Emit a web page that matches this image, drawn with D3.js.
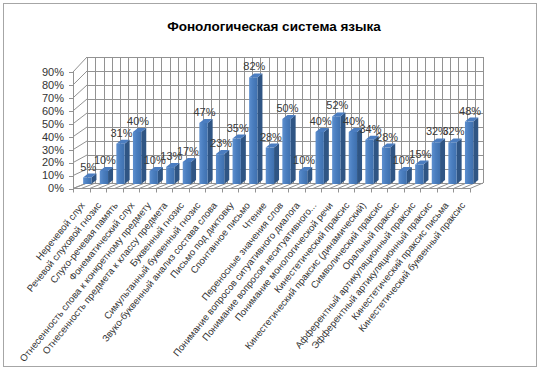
<!DOCTYPE html>
<html>
<head>
<meta charset="utf-8">
<script src="https://cdn.jsdelivr.net/npm/d3@7"></script>
<style>
  body { margin: 0; background: #fff; }
  text { font-family: "Liberation Sans", Arial, sans-serif; }
</style>
</head>
<body>
<svg id="chart" width="546" height="373"></svg>
<script>
const title = "Фонологическая система языка";

const categories = [
  "Неречевой слух",
  "Речевой слуховой гнозис",
  "Слухо-речевая память",
  "Фонематический слух",
  "Отнесенность слова к конкретному предмету",
  "Отнесенность предмета к классу предмета",
  "Буквенный гнозис",
  "Симультанный буквенный гнозис",
  "Звуко-буквенный анализ состава слова",
  "Письмо под диктовку",
  "Спонтанное письмо",
  "Чтение",
  "Переносные значения слов",
  "Понимание вопросов ситуативного диалога",
  "Понимание вопросов неситуативного...",
  "Понимание монологической речи",
  "Кинестетический праксис",
  "Кинестетический праксис (динамический)",
  "Символический праксис",
  "Оральный праксис",
  "Афферентный артикуляционный праксис",
  "Эфферентный артикуляционный праксис",
  "Кинестетический праксис письма",
  "Кинестетический буквенный праксис"
];

const values = [5, 10, 31, 40, 10, 13, 17, 47, 23, 35, 82, 28,
                50, 10, 40, 52, 40, 34, 28, 10, 15, 32, 32, 48];

const yTicks = [0, 10, 20, 30, 40, 50, 60, 70, 80, 90];

const svg = d3.select("#chart");

// chart frame
svg.append("rect")
  .attr("x", 3.5).attr("y", 3.5)
  .attr("width", 533).attr("height", 363)
  .attr("fill", "#fff")
  .attr("stroke", "#a6a6a6");

svg.append("text")
  .attr("x", 274).attr("y", 31)
  .attr("text-anchor", "middle")
  .style("font-size", "13.5px")
  .style("font-weight", "bold")
  .attr("fill", "#000")
  .text(title);

// 3d frame scales: back wall, front edge, bars
const xBack = d3.scaleBand().domain(categories).range([87, 483]);
const xFront = d3.scaleBand().domain(categories).range([73, 470]);
const xBar = d3.scaleBand().domain(categories).range([79, 477.4])
  .paddingInner(0.5).paddingOuter(0.25);

const yBack = d3.scaleLinear().domain([0, 90]).range([183, 57]);
const yFront = d3.scaleLinear().domain([0, 90]).range([188.5, 72]);
const yBar = d3.scaleLinear().domain([0, 90]).range([184, 67]);

const depth = { dx: 5, dy: -4 };
const gridColor = "#929292";

const grid = svg.append("g")
  .attr("stroke", gridColor)
  .attr("stroke-width", 1)
  .attr("fill", "none");

// back wall
grid.selectAll("line.hb")
  .data(yTicks).enter()
  .append("line")
    .attr("x1", 87).attr("x2", 483)
    .attr("y1", function(d) { return Math.round(yBack(d)) + 0.5; })
    .attr("y2", function(d) { return Math.round(yBack(d)) + 0.5; });

const halfEdges = [];
categories.forEach(function(c) { halfEdges.push(c + "|0", c + "|1"); });
halfEdges.push("end");

function edgeX(scale, key) {
  if (key === "end") return scale.range()[1];
  const parts = key.split("|");
  return scale(parts[0]) + (+parts[1]) * scale.bandwidth() / 2;
}

grid.selectAll("line.vb")
  .data(halfEdges).enter()
  .append("line")
    .attr("x1", function(d) { return Math.round(edgeX(xBack, d)) + 0.5; })
    .attr("x2", function(d) { return Math.round(edgeX(xBack, d)) + 0.5; })
    .attr("y1", yBack(0)).attr("y2", yBack(90));

// side wall
grid.selectAll("line.side")
  .data(yTicks).enter()
  .append("line")
    .attr("x1", 73).attr("y1", function(d) { return yFront(d); })
    .attr("x2", 87).attr("y2", function(d) { return yBack(d); });

grid.append("line")
  .attr("x1", 73.5).attr("x2", 73.5)
  .attr("y1", yFront(0)).attr("y2", yFront(90));

// floor
grid.append("line")
  .attr("x1", 73).attr("x2", 470)
  .attr("y1", yFront(0)).attr("y2", yFront(0));

grid.selectAll("line.floor")
  .data(halfEdges).enter()
  .append("line")
    .attr("x1", function(d) { return edgeX(xFront, d); })
    .attr("y1", yFront(0))
    .attr("x2", function(d) { return edgeX(xBack, d); })
    .attr("y2", yBack(0));

// ticks
grid.selectAll("line.ytick")
  .data(yTicks).enter()
  .append("line")
    .attr("x1", 69).attr("x2", 73)
    .attr("y1", function(d) { return Math.round(yFront(d)) + 0.5; })
    .attr("y2", function(d) { return Math.round(yFront(d)) + 0.5; });

const catEdges = categories.concat(["end"]);
grid.selectAll("line.xtick")
  .data(catEdges).enter()
  .append("line")
    .attr("x1", function(d) { return Math.round(d === "end" ? 470 : xFront(d)) + 0.5; })
    .attr("x2", function(d) { return Math.round(d === "end" ? 470 : xFront(d)) + 0.5; })
    .attr("y1", yFront(0)).attr("y2", yFront(0) + 4);

// bars
const defs = svg.append("defs");
const grad = defs.append("linearGradient")
  .attr("id", "barFront").attr("x1", 0).attr("x2", 1).attr("y1", 0).attr("y2", 0);
grad.append("stop").attr("offset", "0%").attr("stop-color", "#5d8fcf");
grad.append("stop").attr("offset", "45%").attr("stop-color", "#4a7ebf");
grad.append("stop").attr("offset", "100%").attr("stop-color", "#3f70ae");

const bars = svg.append("g")
  .selectAll("g")
  .data(categories.map(function(c, i) { return { name: c, value: values[i] }; }))
  .enter().append("g");

const bw = xBar.bandwidth();

bars.append("polygon")
  .attr("points", function(d) {
    const x = xBar(d.name) + bw, y0 = yBar(0), y1 = yBar(d.value);
    return [[x, y1], [x + depth.dx, y1 + depth.dy], [x + depth.dx, y0 + depth.dy], [x, y0]].join(" ");
  })
  .attr("fill", "#2f5584");

bars.append("polygon")
  .attr("points", function(d) {
    const x = xBar(d.name), y1 = yBar(d.value);
    return [[x, y1], [x + depth.dx, y1 + depth.dy], [x + bw + depth.dx, y1 + depth.dy], [x + bw, y1]].join(" ");
  })
  .attr("fill", "#4b7dc0");

bars.append("rect")
  .attr("x", function(d) { return xBar(d.name); })
  .attr("y", function(d) { return yBar(d.value); })
  .attr("width", bw)
  .attr("height", function(d) { return yBar(0) - yBar(d.value); })
  .attr("fill", "url(#barFront)");

bars.append("text")
  .attr("x", function(d) { return xBar(d.name) + bw / 2 + 1; })
  .attr("y", function(d) { return yBar(d.value) - 7; })
  .attr("text-anchor", "middle")
  .attr("fill", "#3a3a3a")
  .style("font-size", "11px")
  .text(function(d) { return d.value + "%"; });

// y axis labels
svg.append("g")
  .selectAll("text")
  .data(yTicks).enter()
  .append("text")
    .attr("x", 64)
    .attr("y", function(d) { return yFront(d); })
    .attr("dy", "0.35em")
    .attr("text-anchor", "end")
    .attr("fill", "#333")
    .style("font-size", "11px")
    .text(function(d) { return d + "%"; });

// category labels
svg.append("g")
  .selectAll("text")
  .data(categories).enter()
  .append("text")
    .attr("transform", function(d) {
      return `translate(${xFront(d) + xFront.bandwidth() / 2 + 4},${yFront(0) + 17}) rotate(-51)`;
    })
    .attr("text-anchor", "end")
    .attr("fill", "#333")
    .style("font-size", "9.6px")
    .text(function(d) { return d; });
</script>
</body>
</html>
